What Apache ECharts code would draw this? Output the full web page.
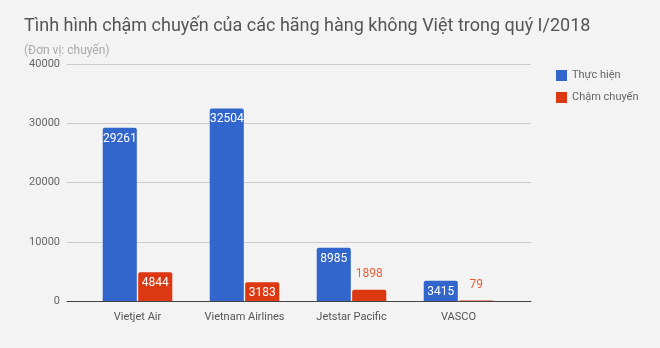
<!DOCTYPE html>
<html><head><meta charset="utf-8">
<script src="https://cdn.jsdelivr.net/npm/echarts@6/dist/echarts.min.js"></script>
<style>html,body{margin:0;padding:0;background:#f3f3f3}#c{width:660px;height:348px}</style>
</head><body><div id="c"></div>
<script>
var categories = ['Vietjet Air', 'Vietnam Airlines', 'Jetstar Pacific', 'VASCO'];
var thucHien = [29261, 32504, 8985, 3415];
var chamChuyen = [4844, 3183, 1898, 79];
var yTicks = [0, 10000, 20000, 30000, 40000];
var seriesNames = ['Thực hiện', 'Chậm chuyến'];

var font = 'Roboto, "Noto Sans", sans-serif';
function lbl(vals, outColor, threshold) {
  return vals.map(function (v) {
    var inside = v >= threshold;
    return {
      value: v,
      label: {
        show: true,
        position: inside ? 'insideTop' : 'top',
        distance: inside ? 5 : 10,
        color: inside ? '#ffffff' : outColor,
        fontSize: 12,
        fontFamily: font,
        formatter: function (p) { return String(p.value); }
      }
    };
  });
}
var chart = echarts.init(document.getElementById('c'));
chart.setOption({
  backgroundColor: '#f3f3f3',
  animation: false,
  title: [
    { text: 'Tình hình chậm chuyến của các hãng hàng không Việt trong quý I/2018', left: 19, top: 12,
      textStyle: { fontFamily: font, fontWeight: 'normal', fontSize: 18, color: '#555555' } },
    { text: '(Đơn vị: chuyến)', left: 19, top: 40,
      textStyle: { fontFamily: font, fontWeight: 'normal', fontSize: 12, color: '#aaaaaa' } }
  ],
  legend: {
    orient: 'vertical', left: 551, top: 65, itemWidth: 11, itemHeight: 11, itemGap: 11,
    icon: 'rect',
    textStyle: { fontFamily: font, fontSize: 11, color: '#666666' },
    data: seriesNames
  },
  grid: [
    { left: 67, right: 129, top: 64, bottom: 47 },
    { left: 84, right: 148, top: 64, bottom: 47 }
  ],
  xAxis: [
    { type: 'value', gridIndex: 0, min: 0, max: 1, show: true,
      axisLine: { show: true, onZero: true, lineStyle: { color: '#444444', width: 1 } },
      axisTick: { show: false }, axisLabel: { show: false }, splitLine: { show: false } },
    { type: 'category', gridIndex: 1, data: categories,
      axisLine: { show: false }, axisTick: { show: false },
      axisLabel: { interval: 0, color: '#555555', fontSize: 11, fontFamily: font, margin: 11 } }
  ],
  yAxis: [
    { type: 'value', gridIndex: 0, min: yTicks[0], max: yTicks[yTicks.length - 1], interval: 10000,
      axisLine: { show: false }, axisTick: { show: false },
      axisLabel: { color: '#666666', fontSize: 11, fontFamily: font, margin: 7,
        formatter: function (v) { return String(v); } },
      splitLine: { lineStyle: { color: '#cccccc', width: 1 } } },
    { type: 'value', gridIndex: 1, min: yTicks[0], max: yTicks[yTicks.length - 1], show: false,
      splitLine: { show: false } }
  ],
  series: [
    { name: seriesNames[0], type: 'bar', xAxisIndex: 1, yAxisIndex: 1,
      barGap: '4%', barCategoryGap: '35%',
      itemStyle: { color: '#3366cc', borderRadius: [2, 2, 0, 0] },
      data: lbl(thucHien, '#3366cc', 2000), z: 3 },
    { name: seriesNames[1], type: 'bar', xAxisIndex: 1, yAxisIndex: 1,
      itemStyle: { color: '#dc3912', borderRadius: [2, 2, 0, 0] },
      data: lbl(chamChuyen, '#e8603c', 2500), z: 3 }
  ]
});
</script></body></html>
